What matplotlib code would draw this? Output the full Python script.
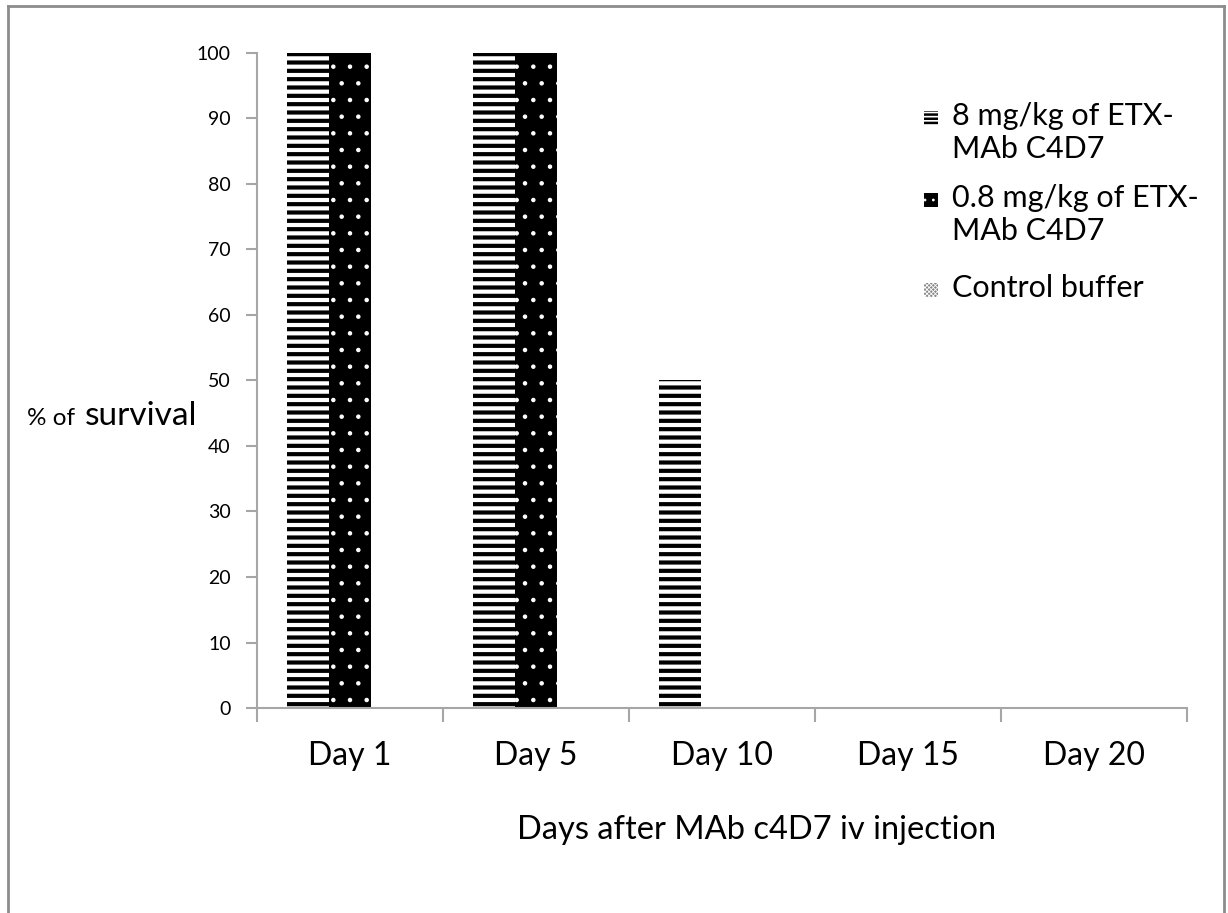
import matplotlib.pyplot as plt
import numpy as np
from matplotlib.lines import Line2D
from matplotlib.patches import Rectangle

# data
days = ['Day 1', 'Day 5', 'Day 10', 'Day 15', 'Day 20']
high_dose = [100, 100, 50, 0, 0]
low_dose = [100, 100, 0, 0, 0]
control = [0, 0, 0, 0, 0]
labels = ['8 mg/kg of ETX-\nMAb C4D7', '0.8 mg/kg of ETX-\nMAb C4D7', 'Control buffer']

plt.rcParams['font.family'] = ['Lato', 'DejaVu Sans']
grey = '#a6a6a6'
W, H = 1228.0, 913.0

fig = plt.figure(figsize=(12.28, 9.13), dpi=100)
ax = fig.add_axes([257 / W, 1 - 708 / H, (1187 - 257) / W, (708 - 53) / H])

x = np.arange(len(days))
w = 0.226

plt.rcParams['hatch.linewidth'] = 3.0
b1 = ax.bar(x - w, high_dose, w, facecolor='white', edgecolor='black', hatch='--', linewidth=0)
plt.rcParams['hatch.linewidth'] = 0.8
b2 = ax.bar(x, low_dose, w, facecolor='black', edgecolor='white', hatch='.', linewidth=0)
plt.rcParams['hatch.linewidth'] = 0.6
b3 = ax.bar(x + w, control, w, facecolor='white', edgecolor='black', hatch='xxxxxx', linewidth=0)

ax.set_xlim(-0.5, len(days) - 0.5)
ax.set_ylim(0, 100)
ax.set_yticks(np.arange(0, 101, 10))
ax.set_xticks(x)
ax.set_xticklabels(days, fontsize=23)
ax.set_xticks(np.arange(-0.5, len(days), 1), minor=True)
ax.tick_params(axis='x', which='major', length=0, pad=24)
ax.tick_params(axis='x', which='minor', length=10, width=1.5, color=grey, direction='out')
ax.tick_params(axis='y', length=8, width=1.5, color=grey, labelsize=14, pad=11)

for s in ['top', 'right']:
    ax.spines[s].set_visible(False)
for s in ['left', 'bottom']:
    ax.spines[s].set_color(grey)
    ax.spines[s].set_linewidth(1.5)

ax.set_xlabel('Days after MAb c4D7 iv injection', fontsize=23.5)
ax.xaxis.set_label_coords((757 - 257) / (1187 - 257), -(830 - 708) / (708 - 53))
ax.xaxis.label.set_va('center')
fig.text(0.022, 0.5345, '% of', fontsize=17.5, va='baseline', ha='left')
fig.text(0.069, 0.5345, 'survival', fontsize=24, va='baseline', ha='left')

# legend, drawn by hand so that each swatch sits by the first line of its label
swatch_y = [118, 200, 290]
styles = [dict(facecolor='white', edgecolor='black', hatch='----', hlw=1.8),
          dict(facecolor='black', edgecolor='white', hatch='..', hlw=0.8),
          dict(facecolor='#888888', edgecolor='white', hatch='xxxxxxxx', hlw=0.6)]
for lab, yc, st in zip(labels, swatch_y, styles):
    plt.rcParams['hatch.linewidth'] = st['hlw']
    fig.add_artist(Rectangle((924 / W, 1 - (yc + 7) / H), 14 / W, 14 / H,
                             facecolor=st['facecolor'], edgecolor=st['edgecolor'],
                             hatch=st['hatch'], linewidth=0, transform=fig.transFigure))
    fig.text(952 / W, 1 - (yc - 16) / H, lab, fontsize=22, va='top', ha='left',
             linespacing=1.2)

# outer frame of the chart
for xs, ys in [([0.0065, 0.0065], [-0.1, 0.993]), ([0.0065, 0.9965], [0.993, 0.993]),
               ([0.9965, 0.9965], [-0.1, 0.993])]:
    fig.add_artist(Line2D(xs, ys, color='#8c8c8c', lw=2))

fig.savefig('out.png', dpi=100)
